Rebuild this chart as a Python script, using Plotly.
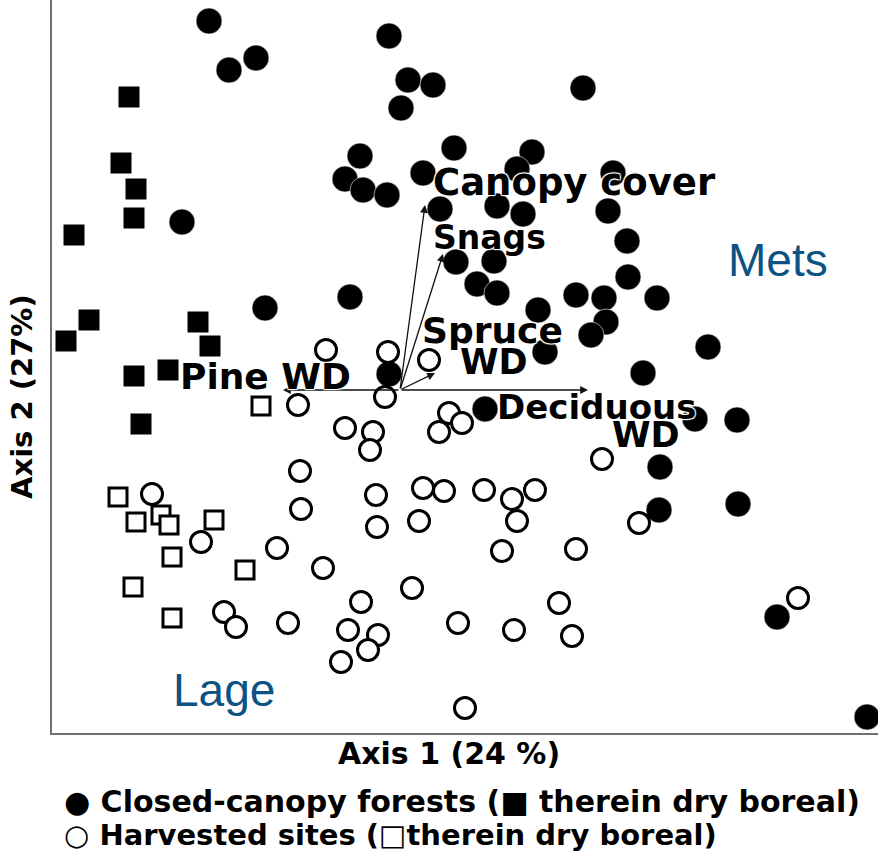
import plotly.graph_objects as go

# Site scores on the first two ordination axes
closed_x = [-1.91, -0.11, -1.71, -1.44, 0.08, 0.33, 0.01, 1.83, -0.40, -0.55, -0.37, -0.13,
            0.54, 0.23, 1.32, 1.17, 2.13, 0.97, 1.23, 2.08, -2.18, 0.40, 2.27, 0.56,
            0.94, 0.77, 0.97, 2.28, 1.76, 2.04, 2.57, 1.38, 2.06, 1.91, 1.45, 3.08,
            2.43, -0.50, -1.35, -0.11, 0.85, 2.95, 3.37, 2.60, 2.59, 3.38, 3.77, 4.67]
closed_y = [3.69, 3.54, 3.20, 3.32, 3.10, 3.05, 2.82, 3.02, 2.34, 2.11, 2.00, 1.95,
            2.42, 2.17, 2.38, 2.21, 2.17, 1.84, 1.76, 1.79, 1.68, 1.81, 1.49, 1.28,
            1.29, 1.06, 0.97, 1.13, 0.95, 0.92, 0.92, 0.80, 0.68, 0.55, 0.38, 0.43,
            0.17, 0.93, 0.82, 0.16, -0.19, -0.29, -0.30, -0.77, -1.20, -1.14, -2.27, -3.27]

closed_dry_x = [-2.71, -2.79, -2.64, -2.66, -3.26, -3.11, -3.34, -2.02, -1.90, -2.66, -2.32, -2.59]
closed_dry_y = [2.93, 2.27, 2.01, 1.72, 1.55, 0.70, 0.49, 0.68, 0.44, 0.14, 0.20, -0.34]

harvest_x = [-0.74, -0.12, 0.29, -0.15, -1.02, -0.55, -0.27, -0.30, -1.00, -0.24, 0.23, 0.44,
             -0.99, -0.23, 0.19, -2.48, -1.99, -1.23, -0.77, -0.39, 0.12, -1.76, -1.64, -1.12,
             -0.52, -0.22, -0.32, -0.59, 0.49, 0.62, 0.39, 2.02, 0.84, 1.35, 1.12, 1.17,
             2.39, 1.02, 1.76, 1.59, 0.58, 1.14, 1.72, 3.98, 0.65]
harvest_y = [0.40, 0.38, 0.30, -0.07, -0.15, -0.38, -0.42, -0.60, -0.81, -1.05, -0.98, -1.01,
             -1.19, -1.37, -1.31, -1.04, -1.52, -1.58, -1.78, -2.12, -1.98, -2.22, -2.37, -2.33,
             -2.40, -2.45, -2.60, -2.72, -0.23, -0.33, -0.42, -0.69, -1.00, -1.00, -1.09, -1.31,
             -1.33, -1.61, -1.59, -2.13, -2.33, -2.40, -2.46, -2.08, -3.18]

harvest_dry_x = [-1.39, -2.82, -2.64, -2.39, -2.31, -1.86, -2.28, -1.55, -2.67, -2.28]
harvest_dry_y = [-0.16, -1.07, -1.32, -1.25, -1.35, -1.30, -1.67, -1.80, -1.97, -2.28]

# Environmental vectors fitted onto the ordination
env_names = ["Canopy cover", "Snags", "Spruce WD", "Deciduous WD", "Pine WD"]
env_x = [0.25, 0.43, 0.35, 1.88, -1.17]
env_y = [1.85, 1.36, 0.17, 0.00, 0.00]

X_RANGE = [-3.48, 4.78]
Y_RANGE = [-3.43, 3.90]
W, H = 878, 854
ML, MB = 52, 121
PLOT_W, PLOT_H = W - ML, H - MB

BOLD = "DejaVu Sans"
BLUE = "#0c5283"
HALO = "1px 1px 1px white, -1px -1px 1px white, 1px -1px 1px white, -1px 1px 1px white"


def paper(px, py):
    """Pixel position on the page -> paper coordinates."""
    return (px - ML) / PLOT_W, (PLOT_H - py) / PLOT_H


fig = go.Figure()

fig.add_trace(go.Scatter(
    x=closed_x, y=closed_y, mode="markers",
    marker=dict(symbol="circle", size=26, color="black",
                line=dict(color="rgba(255,255,255,0.7)", width=0.8)),
    name="Closed-canopy forests"))
fig.add_trace(go.Scatter(
    x=closed_dry_x, y=closed_dry_y, mode="markers",
    marker=dict(symbol="square", size=21, color="black", line=dict(width=0)),
    name="Closed-canopy, dry boreal"))
fig.add_trace(go.Scatter(
    x=harvest_x, y=harvest_y, mode="markers",
    marker=dict(symbol="circle", size=21, color="white",
                line=dict(color="black", width=3)),
    name="Harvested sites"))
fig.add_trace(go.Scatter(
    x=harvest_dry_x, y=harvest_dry_y, mode="markers",
    marker=dict(symbol="square", size=18, color="white",
                line=dict(color="black", width=3)),
    name="Harvested, dry boreal"))

annotations = []

# Vector arrows from the origin
for vx, vy in zip(env_x, env_y):
    annotations.append(dict(
        x=vx, y=vy, ax=0, ay=0, xref="x", yref="y", axref="x", ayref="y",
        text="", showarrow=True, arrowhead=2, arrowsize=1.2, arrowwidth=1.3,
        arrowcolor="#111"))


def label(text, px, py, xanchor="left", size=30, color="black", family=BOLD,
          bold=True, shadow=None):
    xp, yp = paper(px, py)
    font = dict(family=family, size=size, color=color)
    if shadow:
        font["shadow"] = shadow
    annotations.append(dict(
        x=xp, y=yp, xref="paper", yref="paper", text=f"<b>{text}</b>" if bold else text,
        showarrow=False, xanchor=xanchor, yanchor="middle", font=font))


# Vector labels
label("Canopy cover", 431, 182, size=37, shadow=HALO)
label("Snags", 431, 237, size=33, shadow=HALO)
label("Spruce", 492, 330, xanchor="center", size=36, shadow=HALO)
label("WD", 494, 362, xanchor="center", size=35, shadow=HALO)
label("Pine WD", 178, 376, size=36, shadow=HALO)
label("Deciduous", 495, 407, size=34, shadow=HALO)
label("WD", 646, 435, xanchor="center", size=35, shadow=HALO)

# Region names
label("Mets", 778, 260, xanchor="center", size=46, color=BLUE, family="Liberation Sans", bold=False)
label("Lage", 224, 690, xanchor="center", size=46, color=BLUE, family="Liberation Sans", bold=False)

# Axis titles
label("Axis 1 (24 %)", 449, 753, xanchor="center", size=30)
xp, yp = paper(22, 397)
annotations.append(dict(
    x=xp, y=yp, xref="paper", yref="paper", text="<b>Axis 2 (27%)</b>", textangle=-90,
    showarrow=False, xanchor="center", yanchor="middle",
    font=dict(family=BOLD, size=29, color="black")))

# Symbol key
label("● Closed-canopy forests (■ therein dry boreal)", 62, 801, size=30)
label("○ Harvested sites (□therein dry boreal)", 62, 835, size=29)

fig.update_layout(
    width=W, height=H,
    margin=dict(l=ML, r=0, t=0, b=MB),
    paper_bgcolor="white", plot_bgcolor="white",
    showlegend=False,
    annotations=annotations,
    xaxis=dict(range=X_RANGE, showgrid=False, zeroline=False, showticklabels=False,
               ticks="", showline=True, linecolor="#707070", linewidth=2, mirror=False),
    yaxis=dict(range=Y_RANGE, showgrid=False, zeroline=False, showticklabels=False,
               ticks="", showline=True, linecolor="#707070", linewidth=2, mirror=False),
)

fig.write_html("out.html")
